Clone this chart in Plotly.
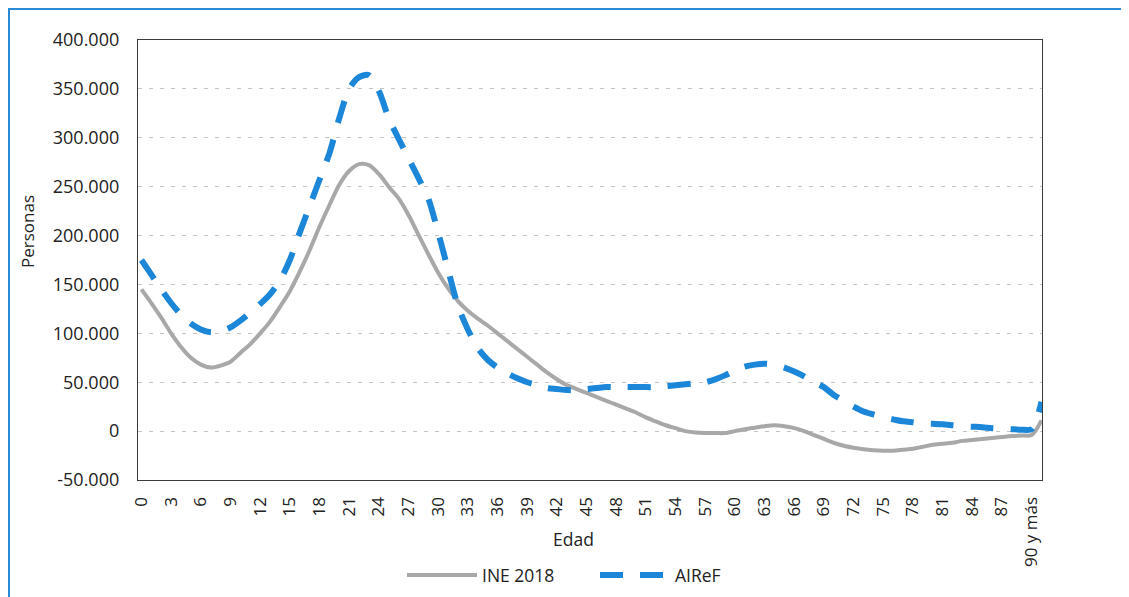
import plotly.graph_objects as go

# Age index 0..91 (index 90 labelled "90 y más")
edad_idx = list(range(92))

ine_2018 = [145000, 131000, 116000, 100000, 86000, 75000, 68000, 65000, 67000, 71000,
            80000, 89000, 100000, 112000, 127000, 143000, 163000, 185000, 209000, 231000,
            252000, 266000, 273000, 272000, 263000, 250000, 238000, 221000, 201000, 181000,
            162000, 146000, 133000, 123000, 115000, 108000, 100000, 92000, 84000, 76000,
            68000, 60000, 53000, 47000, 43000, 39000, 35000, 31000, 27000, 23000,
            19000, 14000, 10000, 6000, 3000, 0, -1500, -2000, -2000, -2000,
            0, 2000, 3500, 5000, 6000, 5000, 3000, 0, -4000, -8000,
            -12000, -15000, -17000, -18500, -19500, -20000, -20000, -19000, -18000, -16000,
            -14000, -13000, -12000, -10000, -9000, -8000, -7000, -6000, -5000, -4500,
            -4000, 11000]

airef = [175000, 160000, 145000, 131000, 119000, 110000, 104000, 101000, 102000, 106000,
         113000, 121000, 130000, 140000, 154000, 175000, 203000, 230000, 257000, 284000,
         320000, 350000, 362000, 364000, 348000, 320000, 299000, 279000, 259000, 238000,
         203000, 165000, 128000, 104000, 85000, 73000, 65000, 59000, 54000, 50000,
         47000, 44000, 43000, 42000, 42000, 43000, 44000, 45000, 45000, 45000,
         45000, 45000, 45000, 46000, 47000, 48000, 49000, 50000, 53000, 57000,
         62000, 66000, 68000, 69000, 68000, 65000, 61000, 56000, 50000, 45000,
         37000, 31000, 25000, 20000, 17000, 14000, 12000, 10000, 9000, 8000,
         7500, 7000, 6000, 5000, 4500, 4000, 3000, 2500, 2000, 1500,
         2000, 30000]

x_tick_pos = list(range(0, 91, 3))
x_tick_labels = [str(v) for v in range(0, 88, 3)] + ["90 y más"]

y_tick_vals = [-50000, 0, 50000, 100000, 150000, 200000, 250000, 300000, 350000, 400000]
y_tick_labels = ["-50.000", "0", "50.000", "100.000", "150.000", "200.000",
                 "250.000", "300.000", "350.000", "400.000"]

FONT = "Open Sans"
TXT = "#222222"
BLUE = "#1c86d8"
GRAY = "#a8a8a8"

fig = go.Figure()
fig.add_trace(go.Scatter(
    x=edad_idx, y=ine_2018, mode="lines", name="INE 2018",
    line=dict(color=GRAY, width=4, shape="spline", smoothing=0.8),
))
fig.add_trace(go.Scatter(
    x=edad_idx, y=airef, mode="lines", name="AIReF",
    line=dict(color=BLUE, width=6, dash="23px,17px", shape="spline", smoothing=0.8),
))

# page is rendered with an 8px body margin
OFF = 8
W, H = 1129 - OFF, 597 - OFF
PL, PR, PT, PB = 138, 1042, 40, 480   # plot area in screenshot pixels
L, R, T, B = PL - OFF, W - (PR - OFF), PT - OFF, H - (PB - OFF)
pw, ph = W - L - R, H - T - B

def px_to_paper_x(px):
    return (px - PL) / pw

def px_to_paper_y(py):
    return (PB - py) / ph

fig.update_layout(
    width=W, height=H,
    margin=dict(l=L, r=R, t=T, b=B, autoexpand=False),
    paper_bgcolor="white", plot_bgcolor="white",
    font=dict(family=FONT, size=17, color=TXT),
    showlegend=True,
    legend=dict(orientation="h", x=px_to_paper_x(595), xanchor="center",
                y=px_to_paper_y(575), yanchor="middle",
                font=dict(size=17.5, color=TXT), itemwidth=70,
                entrywidth=108, entrywidthmode="pixels",
                bgcolor="rgba(0,0,0,0)"),
    xaxis=dict(
        range=[-0.35, 91.05], tickmode="array", tickvals=x_tick_pos, ticktext=x_tick_labels,
        tickangle=-90, showgrid=False, zeroline=False,
        showline=True, mirror=True, linecolor="#3a3a3a", linewidth=1.3,
        ticks="", ticklabelstandoff=9, tickfont=dict(size=17, color=TXT),
    ),
    yaxis=dict(
        range=[-50000, 400000], tickmode="array", tickvals=y_tick_vals, ticktext=y_tick_labels,
        showgrid=True, gridcolor="#c4c4c4", griddash="4px,7px", gridwidth=1,
        zeroline=False, showline=True, mirror=True, linecolor="#3a3a3a", linewidth=1.3,
        ticks="", ticklabelstandoff=14, tickfont=dict(size=18, color=TXT),
    ),
    annotations=[
        dict(text="Personas", xref="paper", yref="paper",
             x=px_to_paper_x(27), y=px_to_paper_y(232), textangle=-90,
             showarrow=False, xanchor="center", yanchor="middle",
             font=dict(size=17, color=TXT)),
        dict(text="Edad", xref="paper", yref="paper",
             x=px_to_paper_x(573), y=px_to_paper_y(539),
             showarrow=False, xanchor="center", yanchor="middle",
             font=dict(size=17.5, color=TXT)),
    ],
    shapes=[
        dict(type="rect", xref="paper", yref="paper",
             x0=px_to_paper_x(9), x1=px_to_paper_x(1123),
             y0=px_to_paper_y(610), y1=px_to_paper_y(9),
             line=dict(color="#2a8ad8", width=2), fillcolor="rgba(0,0,0,0)",
             layer="below"),
    ],
)

fig.write_html("out.html")
